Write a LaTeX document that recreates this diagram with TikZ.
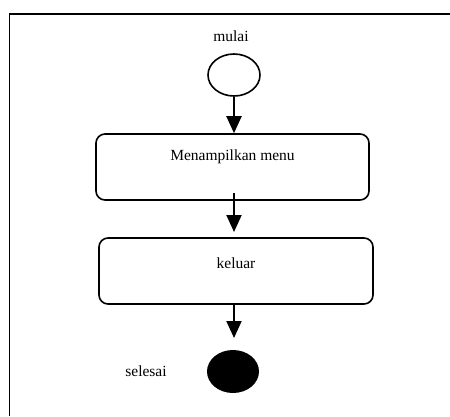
\documentclass[tikz,border=0pt]{standalone}
\usepackage{fontspec}
\setmainfont{Liberation Serif}
\usetikzlibrary{shapes.geometric,arrows.meta}
\begin{document}
\begin{tikzpicture}[x=1pt,y=-1pt,
  every node/.style={font=\fontsize{15.5}{18}\selectfont},
  startnode/.style={ellipse,draw,line width=1.6pt,minimum width=52pt,minimum height=42pt,inner sep=0pt},
  endnode/.style={ellipse,fill=black,minimum width=52pt,minimum height=43pt,inner sep=0pt},
  actbox/.style={draw,rounded corners=9pt,line width=1.6pt,minimum width=273pt,minimum height=66pt,inner sep=0pt},
  arr/.style={line width=2pt,-{Triangle[width=15pt,length=17pt]}},
  frame/.style={line width=1.6pt}]
\useasboundingbox (0,0) rectangle (450,416);
\draw[frame] (450,14) -- (9.5,14) -- (9.5,416);
\node (lmulai) at (231,36) {mulai};
\node[startnode] (s) at (234,75) {};
\node[actbox,label={[yshift=10pt]center:Menampilkan menu}] (m1) at (232.5,167) {};
\node[actbox,minimum width=274pt,label={[yshift=8pt]center:keluar}] (m2) at (236,271) {};
\node[endnode] (e) at (233,371.5) {};
\node (lselesai) at (146,371) {selesai};
\coordinate (a2s) at (234,193);
\coordinate (a2e) at (234,232);
\draw[arr] (s.south) -- (s.south |- m1.north);
\draw[arr] (a2s) -- (a2e);
\draw[arr] (s.south |- m2.south) -- (234,338);
\end{tikzpicture}
\end{document}
